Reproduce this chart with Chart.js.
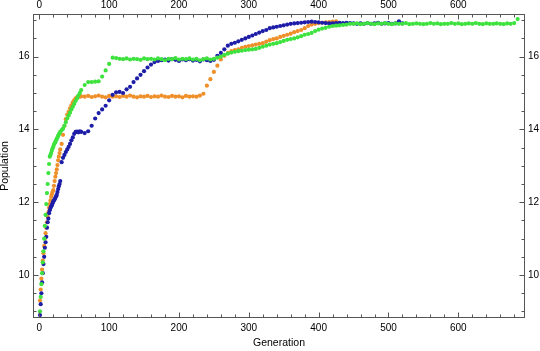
<!DOCTYPE html>
<html><head><meta charset="utf-8">
<script src="https://cdn.jsdelivr.net/npm/chart.js@4.4.1/dist/chart.umd.min.js"></script>
<style>html,body{margin:0;padding:0;background:#fff}canvas{display:block}</style>
</head><body>
<canvas id="c" width="540" height="351" style="width:540px;height:351px"></canvas>
<script>
const generations = [
  1,2,3,4,5,6,7,8,9,10,11,12,13,14,15,16,17,18,19,20,21,22,23,24,25,26,27,28,29,30,
  32,34,36,38,40,42,44,46,48,50,52,54,56,58,60,
  65,70,75,80,85,90,95,100,105,110,
  115,120,125,130,135,140,145,150,155,160,
  165,170,175,180,185,190,195,200,205,210,
  215,220,225,230,235,240,245,250,
  255,260,265,270,275,280,285,290,295,300,
  305,310,315,320,325,330,335,340,345,350,
  355,360,365,370,375,380,385,390,395,400,
  405,410,415,420,425,430,435,440,445,450,
  455,460,465,470,475,480,485,490,495,500,
  505,510,515,520,525,530,535,540,545,550,
  555,560,565,570,575,580,585,590,595,600,
  605,610,615,620,625,630,635,640,645,650,
  655,660,665,670,675,680,685
];
const greenValues = [
  9.0,9.4,9.75,10.05,10.35,10.65,11.0,11.35,11.65,11.95,12.25,12.5,12.8,13.05,13.25,13.3,13.35,13.42,13.48,13.52,13.58,13.62,13.65,13.7,13.74,13.78,13.82,13.86,13.9,13.93,
  13.98,14.02,14.1,14.2,14.3,14.38,14.46,14.55,14.62,14.7,14.78,14.85,14.93,15.0,15.08,
  15.22,15.3,15.3,15.31,15.32,15.45,15.62,15.8,15.97,15.96,
  15.94,15.93,15.95,15.92,15.94,15.93,15.91,15.95,15.93,15.94,
  15.92,15.95,15.93,15.9,15.94,15.93,15.96,15.92,15.94,15.93,
  15.95,15.92,15.94,15.9,15.93,15.95,15.92,15.94,
  15.97,16.0,16.05,16.08,16.11,16.13,16.15,16.16,16.18,16.19,
  16.2,16.21,16.24,16.27,16.3,16.33,16.35,16.37,16.4,16.43,
  16.46,16.48,16.5,16.53,16.56,16.6,16.62,16.65,16.7,16.74,
  16.77,16.79,16.82,16.84,16.85,16.86,16.87,16.88,16.9,16.9,
  16.91,16.89,16.9,16.92,16.9,16.89,16.91,16.9,16.92,16.9,
  16.89,16.91,16.9,16.9,16.92,16.89,16.9,16.91,16.9,16.89,
  16.9,16.92,16.9,16.91,16.89,16.9,16.9,16.92,16.9,16.91,
  16.89,16.9,16.91,16.9,16.92,16.9,16.89,16.91,16.9,16.9,
  16.91,16.9,16.89,16.91,16.9,16.92,17.03
];
const orangeValues = [
  9.3,9.6,9.9,10.15,10.4,10.6,10.8,11.0,11.15,11.3,11.45,11.6,11.72,11.85,11.95,12.05,12.15,12.22,12.28,12.33,12.45,12.58,12.7,12.8,12.9,13.02,13.15,13.25,13.35,13.45,
  13.6,13.85,14.1,14.28,14.4,14.48,14.58,14.66,14.74,14.8,14.85,14.88,14.9,14.9,14.91,
  14.9,14.92,14.89,14.91,14.93,14.9,14.88,14.92,14.9,14.91,
  14.89,14.92,14.9,14.93,14.9,14.88,14.91,14.9,14.92,14.89,
  14.91,14.9,14.93,14.9,14.89,14.92,14.9,14.91,14.88,14.92,
  14.9,14.91,14.9,14.93,14.98,15.2,15.38,15.58,
  15.75,15.92,16.02,16.1,16.15,16.18,16.2,16.24,16.27,16.29,
  16.31,16.33,16.35,16.37,16.41,16.45,16.48,16.5,16.54,16.57,
  16.6,16.63,16.67,16.7,16.73,16.78,16.84,16.88,16.9,16.92,
  16.93,16.94,16.95,16.96,16.97,null,null,null,null,null,
  null,null,null,null,null,null,null,null,null,null,
  null,null,null,null,null,null,null,null,null,null,
  null,null,null,null,null,null,null,null,null,null,
  null,null,null,null,null,null,null,null,null,null,
  null,null,null,null,null,null,null
];
const blueValues = [
  8.9,9.2,9.5,9.8,10.05,10.3,10.5,10.75,10.9,11.05,11.3,11.45,11.55,11.7,11.78,11.84,11.88,11.92,11.97,12.02,12.05,12.08,12.12,12.16,12.2,12.28,12.36,12.44,12.5,12.58,
  13.1,13.22,13.3,13.38,13.45,13.52,13.6,13.7,13.78,13.88,13.93,13.94,13.92,13.95,13.93,
  13.9,13.95,14.1,14.3,14.45,14.55,14.65,14.8,14.95,15.02,
  15.03,15.0,15.1,15.17,15.3,15.4,15.5,15.6,15.7,15.78,
  15.85,15.88,15.9,15.92,15.89,15.93,15.91,15.88,15.92,15.9,
  15.93,15.89,15.91,15.87,15.92,15.9,15.88,15.91,
  16.02,16.1,16.2,16.3,16.35,16.38,16.42,16.46,16.5,16.54,
  16.58,16.62,16.66,16.7,16.73,16.78,16.8,16.82,16.84,16.86,
  16.88,16.9,16.91,16.92,16.93,16.94,16.95,16.96,16.95,16.94,
  16.93,16.92,16.91,16.91,16.92,16.93,16.92,16.93,16.92,16.91,
  16.9,16.91,16.9,16.92,16.9,16.91,16.93,16.9,16.91,16.92,
  16.9,16.91,16.97,16.91,null,null,null,null,null,null,
  null,null,null,null,null,null,null,null,null,null,
  null,null,null,null,null,null,null,null,null,null,
  null,null,null,null,null,null,null
];
const xTickValues = [0,100,200,300,400,500,600];
const yTickValues = [10,12,14,16];
const xRange = [-9, 695.5];
const yRange = [8.82, 17.17];
const xMinorStep = 20, yMinorStep = 0.5;

const FONT = '"Liberation Sans", Arial, Helvetica, sans-serif';
const frameColor = '#555';

function toPoints(vals){
  const out = [];
  generations.forEach((g,i)=>{ if (vals[i] !== null) out.push({x:g, y:vals[i]}); });
  return out;
}

const framePlugin = {
  id: 'frameTicks',
  afterDraw(chart){
    const {ctx, chartArea:a, scales} = chart;
    const xs = scales.x, ys = scales.y;
    ctx.save();
    ctx.strokeStyle = frameColor;
    ctx.lineWidth = 1;
    ctx.beginPath();
    const L = Math.round(a.left)+0.5, R = Math.round(a.right)-0.5, T = Math.round(a.top)+0.5, B = Math.round(a.bottom)-0.5;
    for (let v = 0; v <= xs.max; v += xMinorStep) {
      const px = Math.round(xs.getPixelForValue(v)) + 0.5;
      const len = (v % 100 === 0) ? 5 : 3;
      ctx.moveTo(px, B); ctx.lineTo(px, B - len);
      ctx.moveTo(px, T); ctx.lineTo(px, T + len);
    }
    for (let v = Math.ceil(ys.min / yMinorStep) * yMinorStep; v <= ys.max; v += yMinorStep) {
      const py = Math.round(ys.getPixelForValue(v)) + 0.5;
      const len = (Math.abs(v % 2) < 1e-6) ? 5 : 3;
      ctx.moveTo(L, py); ctx.lineTo(L + len, py);
      ctx.moveTo(R, py); ctx.lineTo(R - len, py);
    }
    ctx.stroke();
    ctx.strokeRect(L, T, R - L, B - T);
    ctx.restore();
  }
};

const tickFont = {family: FONT, size: 10};
function xAxis(pos, h, pad){
  return {
    type: 'linear', position: pos, min: xRange[0], max: xRange[1],
    grid: {display: false, drawTicks: false}, border: {display: false},
    ticks: {color: '#000', font: tickFont, padding: pad, maxRotation: 0, autoSkip: false},
    afterBuildTicks: s => { s.ticks = xTickValues.map(v => ({value: v})); },
    afterFit: s => { s.height = h; }
  };
}
function yAxis(pos, w, pad){
  return {
    type: 'linear', position: pos, min: yRange[0], max: yRange[1],
    grid: {display: false, drawTicks: false}, border: {display: false},
    ticks: {color: '#000', font: tickFont, padding: pad, autoSkip: false},
    afterBuildTicks: s => { s.ticks = yTickValues.map(v => ({value: v})); },
    afterFit: s => { s.width = w; }
  };
}

const scales = {
  x: xAxis('bottom', 33, 4),
  x2: xAxis('top', 14, 3),
  y: yAxis('left', 33, 3.5),
  y2: yAxis('right', 15, 3)
};
scales.x.title = {display: true, text: 'Generation', color: '#000', font: {family: FONT, size: 10.5, lineHeight: 1}, padding: {top: 0, bottom: 2.5}};
scales.y.title = {display: true, text: 'Population', color: '#000', font: {family: FONT, size: 10.5, lineHeight: 1}, padding: {top: 0, bottom: 0}};

const ds = (label, vals, color) => ({
  label, data: toPoints(vals), backgroundColor: color, borderColor: color,
  pointRadius: 2.1, pointBorderWidth: 0, pointHoverRadius: 2.1, showLine: false,
  xAxisID: 'x', yAxisID: 'y'
});

new Chart(document.getElementById('c'), {
  type: 'scatter',
  data: {
    datasets: [
      ds('green', greenValues, '#3ee23e'),
      ds('blue', blueValues, '#1d1da8'),
      ds('orange', orangeValues, '#ef8f29')
    ]
  },
  options: {
    responsive: false, animation: false, devicePixelRatio: 1,
    layout: {padding: 0},
    plugins: {legend: {display: false}, tooltip: {enabled: false}},
    scales
  },
  plugins: [framePlugin]
});
</script>
</body></html>
